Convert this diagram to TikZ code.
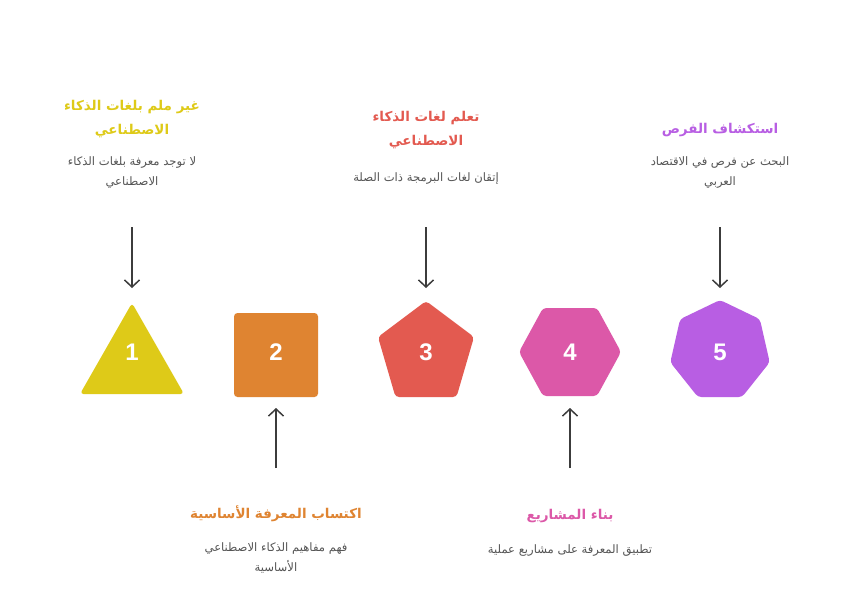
\documentclass[tikz,border=0pt]{standalone}
\usepackage{fontspec}
\usetikzlibrary{arrows.meta}
\TeXXeTstate=1
\newfontfamily\arabicfont[Script=Arabic]{DejaVu Sans}
\newfontfamily\numfont{Liberation Sans}
\definecolor{cYel}{HTML}{DECA18}
\definecolor{cOra}{HTML}{DF8431}
\definecolor{cRed}{HTML}{E35A50}
\definecolor{cPin}{HTML}{DC58A8}
\definecolor{cPur}{HTML}{B85EE3}
\definecolor{cTxt}{HTML}{555555}
\definecolor{cArr}{HTML}{3C3C3C}
\tikzset{
  titletext/.style={font=\arabicfont\bfseries\fontsize{13.5}{24}\selectfont, align=center, inner sep=0pt},
  desctext/.style={font=\arabicfont\fontsize{11.6}{20}\selectfont, text=cTxt, align=center, inner sep=0pt},
  numtext/.style={font=\numfont\bfseries\fontsize{24}{26}\selectfont, text=white, inner sep=0pt},
  conn/.style={draw=cArr, line width=1.5pt, -{Straight Barb[length=7pt,width=15pt,line width=1.5pt]}},
  shp/.style={rounded corners=3.5pt}
}
\begin{document}
\begin{tikzpicture}[x=1pt,y=-1pt]
\useasboundingbox[fill=white] (0,0) rectangle (852,610);
% shapes
\fill[cYel,shp] (132,303) -- (184,394) -- (80,394) -- cycle;
\fill[cOra,shp] (234,313) rectangle (318,397);
\fill[cRed,shp] (426,301) -- (474,337) -- (456.5,397) -- (395.5,397) -- (378,337) -- cycle;
\fill[cPin,shp] (543,308) -- (597,308) -- (621,352) -- (597,396) -- (543,396) -- (519,352) -- cycle;
\fill[cPur,shp] (720,300) -- (759.9,319.2) -- (769.7,362.3) -- (742.1,397) -- (697.9,397) -- (670.3,362.3) -- (680.1,319.2) -- cycle;
% numbers
\node[numtext] (n1) at (132,352) {1};
\node[numtext] (n2) at (276,352) {2};
\node[numtext] (n3) at (426,352) {3};
\node[numtext] (n4) at (570,352) {4};
\node[numtext] (n5) at (720,352) {5};
% texts
\node[titletext, text=cYel] (t1) at (132,119) {\beginR غير ملم بلغات الذكاء\endR\\\beginR الاصطناعي\endR};
\node[desctext] (d1) at (132,173) {\beginR لا توجد معرفة بلغات الذكاء\endR\\\beginR الاصطناعي\endR};
\node[titletext, text=cRed] (t3) at (426,130) {\beginR تعلم لغات الذكاء\endR\\\beginR الاصطناعي\endR};
\node[desctext] (d3) at (426,179) {\beginR إتقان لغات البرمجة ذات الصلة\endR};
\node[titletext, text=cPur] (t5) at (720,130) {\beginR استكشاف الفرص\endR};
\node[desctext] (d5) at (720,173) {\beginR البحث عن فرص في الاقتصاد\endR\\\beginR العربي\endR};
\node[titletext, text=cOra] (t2) at (276,514) {\beginR اكتساب المعرفة الأساسية\endR};
\node[desctext] (d2) at (276,558) {\beginR فهم مفاهيم الذكاء الاصطناعي\endR\\\beginR الأساسية\endR};
\node[titletext, text=cPin] (t4) at (570,516) {\beginR بناء المشاريع\endR};
\node[desctext] (d4) at (570,551) {\beginR تطبيق المعرفة على مشاريع عملية\endR};
% connector end points
\coordinate (a1s) at (132,227); \coordinate (a1e) at (132,288);
\coordinate (a3s) at (426,227); \coordinate (a3e) at (426,288);
\coordinate (a5s) at (720,227); \coordinate (a5e) at (720,288);
\coordinate (a2s) at (276,468); \coordinate (a2e) at (276,408);
\coordinate (a4s) at (570,468); \coordinate (a4e) at (570,408);
\draw[conn] (a1s) -- (a1e);
\draw[conn] (a3s) -- (a3e);
\draw[conn] (a5s) -- (a5e);
\draw[conn] (a2s) -- (a2e);
\draw[conn] (a4s) -- (a4e);
\end{tikzpicture}
\end{document}
